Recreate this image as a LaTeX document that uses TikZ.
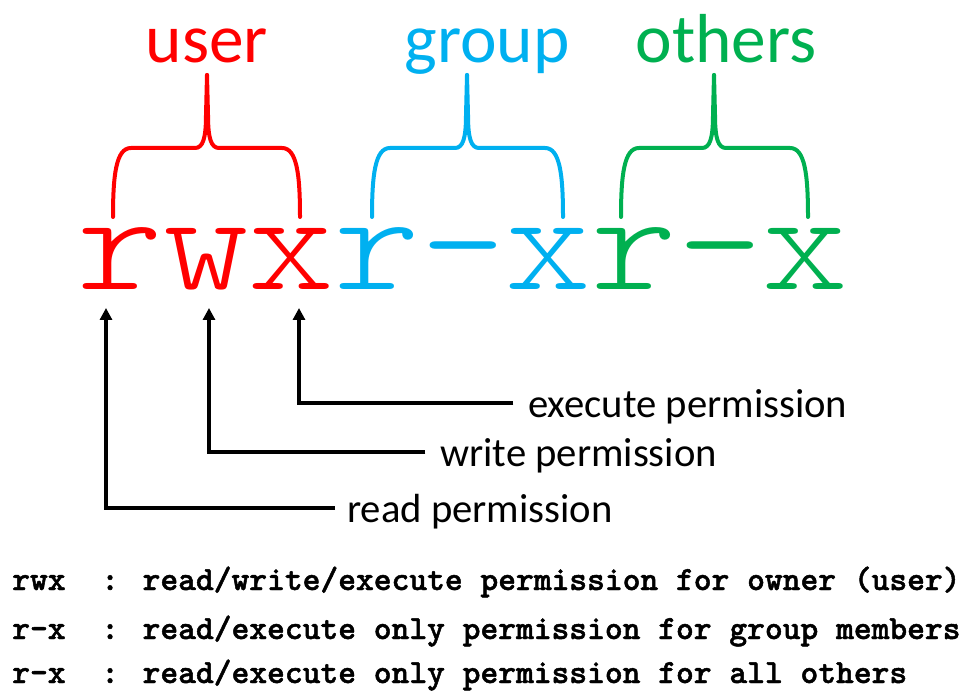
\documentclass[tikz,border=0pt]{standalone}
\usepackage{fontspec}
\setmainfont{Carlito}
\newfontfamily\lightmono{Latin Modern Mono Light}
\newfontfamily\legmono[FakeBold=1.4]{Latin Modern Mono Light}
\usetikzlibrary{arrows.meta}
\definecolor{ured}{RGB}{255,0,0}
\definecolor{gblue}{RGB}{0,176,240}
\definecolor{ogreen}{RGB}{0,176,80}
\newcommand{\permtext}[1]{\scalebox{1}[0.88]{#1}}
\begin{document}
\begin{tikzpicture}[x=0.75pt,y=-0.75pt,
  perm/.style={inner sep=0pt,anchor=base,font=\lightmono\fontsize{122.5}{122.5}\selectfont},
  hdr/.style={inner sep=0pt,anchor=base,font=\fontsize{52}{52}\selectfont},
  lbl/.style={inner sep=0pt,anchor=west,text height=21pt,text depth=0pt,font=\fontsize{30.5}{30.5}\selectfont},
  legend/.style={inner sep=0pt,anchor=base west,font=\legmono\bfseries\fontsize{25.4}{25.4}\selectfont},
  brace/.style={line width=3pt,line cap=round,line join=round},
  arr/.style={line width=2.6pt,-{Triangle[length=9pt,width=9pt]}}]
\useasboundingbox (0,0) rectangle (963,691);
\fill[white] (0,0) rectangle (963,691);
% headers
\node[hdr,text=ured] (hu) at (207,63) {user};
\node[hdr,text=gblue] (hg) at (487,63) {group};
\node[hdr,text=ogreen] (ho) at (726,63) {others};
% permission string
\node[perm,text=ured] (pu) at (206,290) {\permtext{rwx}};
\node[perm,text=gblue] (pg) at (463,290) {\permtext{r-x}};
\node[perm,text=ogreen] (po) at (720,290) {\permtext{r-x}};
% braces
\foreach \L/\R/\C/\col in {113/300/207/ured, 372/563/467/gblue, 621/808/714/ogreen}{
  \draw[brace,\col] (\L,217) .. controls (\L,175) and (\L+3,148) .. (\L+18,148)
     -- (\C-12,148) .. controls (\C-4,148) and (\C-1,138) .. (\C-1,115) -- (\C,75);
  \draw[brace,\col] (\R,217) .. controls (\R,175) and (\R-3,148) .. (\R-18,148)
     -- (\C+12,148) .. controls (\C+4,148) and (\C+1,138) .. (\C+1,115) -- (\C,75);
}
% arrow targets
\coordinate (tr) at (106,308);
\coordinate (tw) at (209,308);
\coordinate (tx) at (299,308);
% labels
\node[lbl] (lx) at (528,403) {execute permission};
\node[lbl] (lw) at (440,452) {write permission};
\node[lbl] (lr) at (347,508) {read permission};
\draw[arr] ([xshift=-11pt]lx.west) -| (tx);
\draw[arr] ([xshift=-11pt]lw.west) -| (tw);
\draw[arr] ([xshift=-9pt]lr.west) -| (tr);
% legend
\node[legend] (l1) at (12,590) {rwx\ \ : read/write/execute permission for owner (user)};
\node[legend] (l2) at (12,639) {r-x\ \ : read/execute only permission for group members};
\node[legend] (l3) at (12,683) {r-x\ \ : read/execute only permission for all others};
\end{tikzpicture}
\end{document}
